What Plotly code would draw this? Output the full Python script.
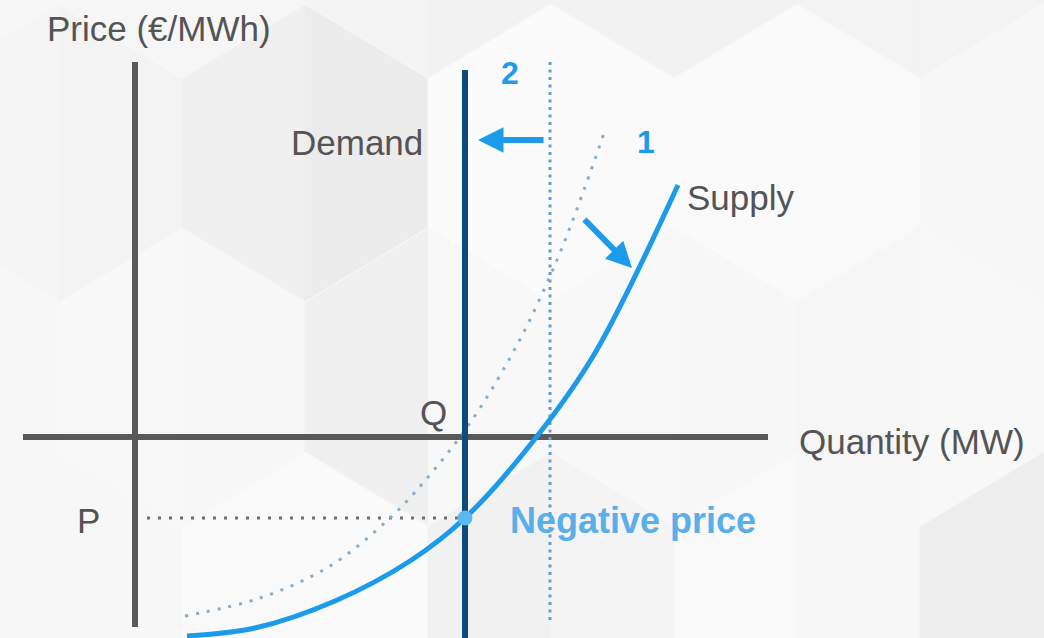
import plotly.graph_objects as go

# ---------------- data (quantity, price in diagram units; origin at axis crossing) -------------
supply_q = [52, 120, 200, 275, 330, 403, 460, 543]
supply_p = [-199, -191, -164, -124, -81, 2, 84, 252]

supply_old_q = [50, 125, 195, 255, 288, 335, 382, 422, 450, 469]
supply_old_p = [-179, -161, -129, -81, -46, 14, 92, 177, 250, 304]

demand_q = [330, 330]
demand_p = [-201, 367]

demand_old_q = [415, 415]
demand_old_p = [-183, 375]

price_axis_q = [0, 0]
price_axis_p = [-190, 375]
qty_axis_q = [-112, 633]
qty_axis_p = [0, 0]

neg_price_q = [330]
neg_price_p = [-81]
p_guide_q = [12, 326]
p_guide_p = [-81, -81]

# arrows: (tail_q, tail_p, head_q, head_p)
demand_shift = (410, 297, 343, 297)
supply_shift = (448, 219, 497, 169)

# background hexagon tiles: (center_q, center_p, left-half gray, right-half gray)
hex_tiles = [
    (47, 508, "#f6f6f6", "#f6f6f6"), (293, 508, "#f4f4f4", "#f2f2f2"),
    (539, 508, "#f2f2f2", "#f2f2f2"), (785, 508, "#f3f3f3", "#f3f3f3"),
    (-76, 284, "#f5f5f5", "#f3f3f3"), (170, 284, "#f0f0f0", "#ececec"),
    (416, 284, "#fbfbfb", "#fafafa"), (662, 284, "#fafafa", "#f9f9f9"),
    (908, 284, "#f7f7f7", "#f7f7f7"),
    (47, 60, "#f8f8f8", "#f7f7f7"), (293, 60, "#f0f0f0", "#f8f8f8"),
    (539, 60, "#f8f8f8", "#f7f7f7"), (785, 60, "#f6f6f6", "#f8f8f8"),
    (-76, -164, "#f7f7f7", "#f7f7f7"), (170, -164, "#f9f9f9", "#fafafa"),
    (416, -164, "#f1f1f1", "#f4f4f4"), (662, -164, "#f9f9f9", "#f7f7f7"),
    (908, -164, "#eeeeee", "#eeeeee"),
]
HEX_HW, HEX_HH = 123, 148

BLUE = "#1b9bea"
NAVY = "#0e4a7b"
AXIS = "#595959"
TXT = "#545454"
LIGHT_BLUE = "#5aafea"
FONT = "Liberation Sans, Arial, sans-serif"

fig = go.Figure()

# background hexagons (each drawn as two halves for a faceted look)
shapes = []
for cq, cp, col_l, col_r in hex_tiles:
    for sgn, col in ((-1, col_l), (1, col_r)):
        pts = [(cq, cp + HEX_HH), (cq + sgn * HEX_HW, cp + HEX_HH / 2),
               (cq + sgn * HEX_HW, cp - HEX_HH / 2), (cq, cp - HEX_HH)]
        path = "M " + " L ".join(f"{x},{y}" for x, y in pts) + " Z"
        shapes.append(dict(type="path", path=path, xref="x", yref="y", fillcolor=col,
                           line=dict(width=0.6, color=col), layer="below"))

# axes
fig.add_trace(go.Scatter(x=price_axis_q, y=price_axis_p, mode="lines",
                         line=dict(color=AXIS, width=6), hoverinfo="skip"))
fig.add_trace(go.Scatter(x=qty_axis_q, y=qty_axis_p, mode="lines",
                         line=dict(color=AXIS, width=6), hoverinfo="skip"))

# guide to price P
fig.add_trace(go.Scatter(x=p_guide_q, y=p_guide_p, mode="lines",
                         line=dict(color="#6e6e6e", width=3, dash="3px,8px"), hoverinfo="skip"))

# old demand (dotted)
fig.add_trace(go.Scatter(x=demand_old_q, y=demand_old_p, mode="lines",
                         line=dict(color="#5f9fd0", width=3, dash="3px,4.5px"), hoverinfo="skip"))

# old supply (dotted)
fig.add_trace(go.Scatter(x=supply_old_q, y=supply_old_p, mode="lines",
                         line=dict(color="#86aecb", width=3, dash="3px,8px", shape="spline", smoothing=1.0),
                         hoverinfo="skip"))

# new supply
fig.add_trace(go.Scatter(x=supply_q, y=supply_p, mode="lines",
                         line=dict(color=BLUE, width=5, shape="spline", smoothing=1.0), hoverinfo="skip"))

# new demand
fig.add_trace(go.Scatter(x=demand_q, y=demand_p, mode="lines",
                         line=dict(color=NAVY, width=6), hoverinfo="skip"))

# equilibrium point
fig.add_trace(go.Scatter(x=neg_price_q, y=neg_price_p, mode="markers",
                         marker=dict(color="#5ab8f2", size=15), hoverinfo="skip"))

ann = []
def label(text, q, p, size=35, color=TXT, xanchor="left", bold=False):
    ann.append(dict(x=q, y=p, xref="x", yref="y", text=f"<b>{text}</b>" if bold else text,
                    showarrow=False, xanchor=xanchor, yanchor="middle",
                    font=dict(family=FONT, size=size, color=color)))

label("Price (€/MWh)", -90, 409)
label("Quantity (MW)", 662, -4)
label("Demand", 290, 295, xanchor="right")
label("Supply", 550, 240)
label("Q", 298, 25, xanchor="center")
label("P", -47, -83, xanchor="center")
label("Negative price", 373, -83, size=36, color=LIGHT_BLUE, bold=True)
label("2", 375, 364, size=32, color=BLUE, xanchor="center", bold=True)
label("1", 511, 295, size=32, color=BLUE, xanchor="center", bold=True)

for tq, tp, hq, hp in (demand_shift, supply_shift):
    ann.append(dict(x=hq, y=hp, ax=tq, ay=tp, xref="x", yref="y", axref="x", ayref="y",
                    text="", showarrow=True, arrowhead=2, arrowsize=0.85, arrowwidth=6,
                    arrowcolor=BLUE, standoff=0, startstandoff=0))

fig.update_layout(
    width=1044, height=638,
    margin=dict(l=0, r=0, t=0, b=0),
    paper_bgcolor="#f7f7f7", plot_bgcolor="rgba(0,0,0,0)",
    showlegend=False,
    xaxis=dict(range=[-135, 909], visible=False, fixedrange=True),
    yaxis=dict(range=[-201, 437], visible=False, fixedrange=True),
    shapes=shapes, annotations=ann,
)

fig.write_html("out.html", config={"displayModeBar": False},
               post_script="document.body.style.margin='0px';document.body.style.overflow='hidden';")
